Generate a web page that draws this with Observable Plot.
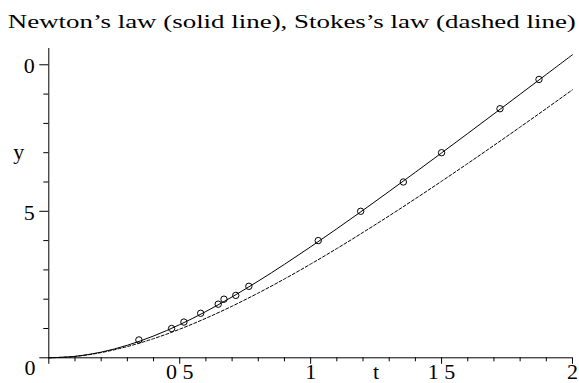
<!DOCTYPE html>
<html>
<head>
<meta charset="utf-8">
<script src="https://cdn.jsdelivr.net/npm/d3@7"></script>
<script src="https://cdn.jsdelivr.net/npm/@observablehq/plot@0.6"></script>
<style>
  html, body { margin: 0; padding: 0; background: white; overflow: hidden; }
</style>
</head>
<body>
<div id="chart"></div>
<script>
// Falling body: height y (m) against time t (s)
const titleText = "Newton\u2019s law (solid line), Stokes\u2019s law (dashed line)";

// Model curves, sampled every 0.1 s
const tSamples = [0, 0.1, 0.2, 0.3, 0.4, 0.5, 0.6, 0.7, 0.8, 0.9, 1.0,
                  1.1, 1.2, 1.3, 1.4, 1.5, 1.6, 1.7, 1.8, 1.9, 2.0];
const newtonY = [0, 0.049, 0.193, 0.428, 0.744, 1.132, 1.580, 2.079, 2.618, 3.190, 3.787,
                 4.404, 5.036, 5.680, 6.332, 6.992, 7.656, 8.325, 8.996, 9.670, 10.344];
const stokesY = [0, 0.047, 0.178, 0.384, 0.653, 0.977, 1.349, 1.762, 2.211, 2.691, 3.198,
                 3.728, 4.279, 4.846, 5.429, 6.025, 6.632, 7.249, 7.874, 8.507, 9.147];

// Measured drop times
const obsT = [0.344, 0.469, 0.516, 0.580, 0.647, 0.669, 0.714, 0.764,
              1.029, 1.191, 1.354, 1.500, 1.723, 1.872];
const obsY = [0.61, 1.00, 1.22, 1.52, 1.83, 2.00, 2.13, 2.44,
              4.00, 5.00, 6.00, 7.00, 8.50, 9.50];

// Axis ticks and their labels
const xMajorTicks = [0, 0.5, 1, 1.5, 2];
const xMinorTicks = [0.1, 0.2, 0.3, 0.4, 0.6, 0.7, 0.8, 0.9, 1.1, 1.2, 1.3, 1.4, 1.6, 1.7, 1.8, 1.9];
const xLabelTicks = [0.5, 1, 1.5, 2];
const xLabels = ["0 5", "1", "1 5", "2"];
const yMajorTicks = [0, 5, 10];
const yMinorTicks = [1, 2, 3, 4, 6, 7, 8, 9];
const yLabelTicks = [5, 10];
const yLabels = ["5", "0"];
const originLabel = "0";

const newton = tSamples.map((t, i) => ({t, y: newtonY[i]}));
const stokes = tSamples.map((t, i) => ({t, y: stokesY[i]}));
const observed = obsT.map((t, i) => ({t, y: obsY[i]}));
const xLabelRows = xLabelTicks.map((v, i) => ({v, s: xLabels[i]}));
const yLabelRows = yLabelTicks.map((v, i) => ({v, s: yLabels[i]}));

const serif = "'Liberation Serif', 'Times New Roman', Times, 'Nimbus Roman', 'DejaVu Serif Condensed', serif";

const chart = Plot.plot({
  width: 579,
  height: 383,
  marginLeft: 48.3,
  marginRight: 7,
  marginTop: 48,
  marginBottom: 25.7,
  x: {domain: [0, 2]},
  y: {domain: [0, 10.556]},
  style: {fontFamily: serif, background: "white", color: "black", overflow: "visible"},
  marks: [
    // axis lines
    Plot.ruleX([0], {stroke: "black", strokeWidth: 1}),
    Plot.ruleY([0], {stroke: "black", strokeWidth: 1}),
    // tick marks
    Plot.axisX(xMinorTicks, {tickSize: 4, tickFormat: () => "", label: null, strokeWidth: 1}),
    Plot.axisX(xMajorTicks, {tickSize: 6.5, tickFormat: () => "", label: null, strokeWidth: 1}),
    Plot.axisY(yMinorTicks, {tickSize: 5, tickFormat: () => "", label: null, strokeWidth: 1}),
    Plot.axisY(yMajorTicks, {tickSize: 9, tickFormat: () => "", label: null, strokeWidth: 1}),
    // tick labels
    Plot.text(xLabelRows, {x: "v", text: "s", frameAnchor: "bottom", lineAnchor: "top",
                           dy: 5.3, fontSize: 22, fill: "black"}),
    Plot.text(yLabelRows, {y: "v", text: "s", frameAnchor: "left", textAnchor: "end",
                           dx: -14, dy: 1.5, fontSize: 22, fill: "black"}),
    Plot.text([originLabel], {frameAnchor: "bottom-left", textAnchor: "end", lineAnchor: "middle",
                              dx: -13.3, dy: 10.5, fontSize: 22, fill: "black"}),
    // axis names
    Plot.text(["t"], {x: 1.25, frameAnchor: "bottom", lineAnchor: "top",
                      dy: 5.3, fontSize: 22, fill: "black"}),
    Plot.text(["y"], {y: 7, frameAnchor: "left", textAnchor: "start",
                      dx: -35.6, dy: -1, fontSize: 22, fill: "black"}),
    // title
    Plot.text([titleText], {frameAnchor: "top-left", textAnchor: "start", lineAnchor: "middle",
                            dx: -41, dy: -27, fontSize: 19, fill: "black", className: "chart-title"}),
    // model curves
    Plot.line(stokes, {x: "t", y: "y", curve: "catmull-rom", stroke: "black",
                       strokeWidth: 1, strokeDasharray: "3,2"}),
    Plot.line(newton, {x: "t", y: "y", curve: "catmull-rom", stroke: "black", strokeWidth: 1}),
    // measurements
    Plot.dot(observed, {x: "t", y: "y", r: 3.2, stroke: "black", strokeWidth: 1, fill: "none"})
  ]
});

document.getElementById("chart").appendChild(chart);

// stretch the title across the top of the figure
d3.select(chart).selectAll(".chart-title text")
  .attr("textLength", 568)
  .attr("lengthAdjust", "spacingAndGlyphs");
</script>
</body>
</html>
